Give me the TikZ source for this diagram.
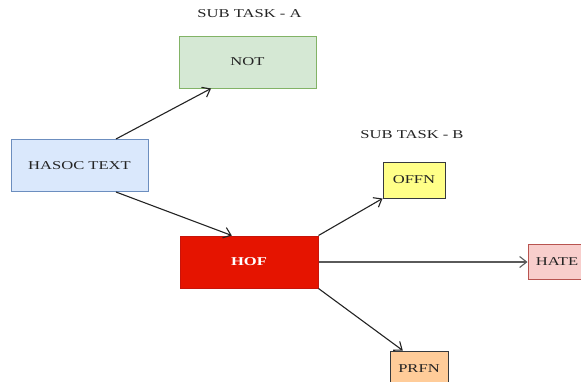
\documentclass[tikz,border=0pt]{standalone}
\usepackage{fontspec}
\setmainfont{Liberation Serif}
\newfontfamily\diagfont[FakeStretch=1.38]{Liberation Serif}
\usetikzlibrary{arrows.meta}
\definecolor{ink}{RGB}{35,35,35}
\definecolor{notfill}{RGB}{213,232,212}
\definecolor{notdraw}{RGB}{130,179,102}
\definecolor{textfill}{RGB}{218,232,252}
\definecolor{textdraw}{RGB}{108,142,191}
\definecolor{hoffill}{RGB}{229,20,0}
\definecolor{hofdraw}{RGB}{200,20,10}
\definecolor{offnfill}{RGB}{255,255,136}
\definecolor{hatefill}{RGB}{248,206,204}
\definecolor{hatedraw}{RGB}{184,84,80}
\definecolor{prfnfill}{RGB}{255,204,153}
\definecolor{greydraw}{RGB}{54,57,61}
\tikzset{
    box/.style={
        rectangle,
        draw,
        line width=1pt,
        inner sep=0pt,
        text=ink,
        font=\diagfont\fontsize{12}{14}\selectfont
    },
    big box/.style={box, minimum width=137pt, minimum height=52pt},
    small box/.style={box, minimum width=60pt, minimum height=35pt},
    tasklabel/.style={
        text=ink,
        font=\diagfont\fontsize{12}{14}\selectfont
    },
    flowarrow/.style={
        -{Straight Barb[length=7pt,width=11pt]},
        draw=ink,
        line width=1.1pt
    }
}

\begin{document}
\begin{tikzpicture}[x=1pt, y=-1pt]

\useasboundingbox (0,0) rectangle (581,381);

% sub task A
\node[tasklabel] (labA) at (249.5, 14) {SUB TASK - A};
\node[big box, fill=notfill, draw=notdraw] (not) at (247.5, 62) {NOT};

% input
\node[big box, fill=textfill, draw=textdraw] (hasoc) at (79.5, 165.5) {HASOC TEXT};
\node[big box, fill=hoffill, draw=hofdraw, text=white, minimum width=138pt,
      font=\diagfont\fontsize{12}{14}\selectfont\bfseries] (hof) at (249, 262) {HOF};

% sub task B
\node[tasklabel] (labB) at (412, 135) {SUB TASK - B};
\node[small box, fill=offnfill, draw=greydraw, minimum width=62pt, minimum height=36pt] (offn) at (414, 180) {OFFN};
\node[small box, fill=hatefill, draw=hatedraw, minimum width=58pt] (hate) at (557, 261.5) {HATE};
\node[small box, fill=prfnfill, draw=greydraw, minimum width=58pt] (prfn) at (419, 368.5) {PRFN};

\draw[flowarrow] (hasoc.36) -- (not.216);
\draw[flowarrow] (hasoc.-36) -- (hof.123);
\draw[flowarrow] (hof.north east) -- (offn.south west);
\draw[flowarrow, draw=ink!75] (hof.east) -- (hof.east -| hate.west);
\draw[flowarrow] (hof.south east) -- (prfn.132);

\end{tikzpicture}
\end{document}
